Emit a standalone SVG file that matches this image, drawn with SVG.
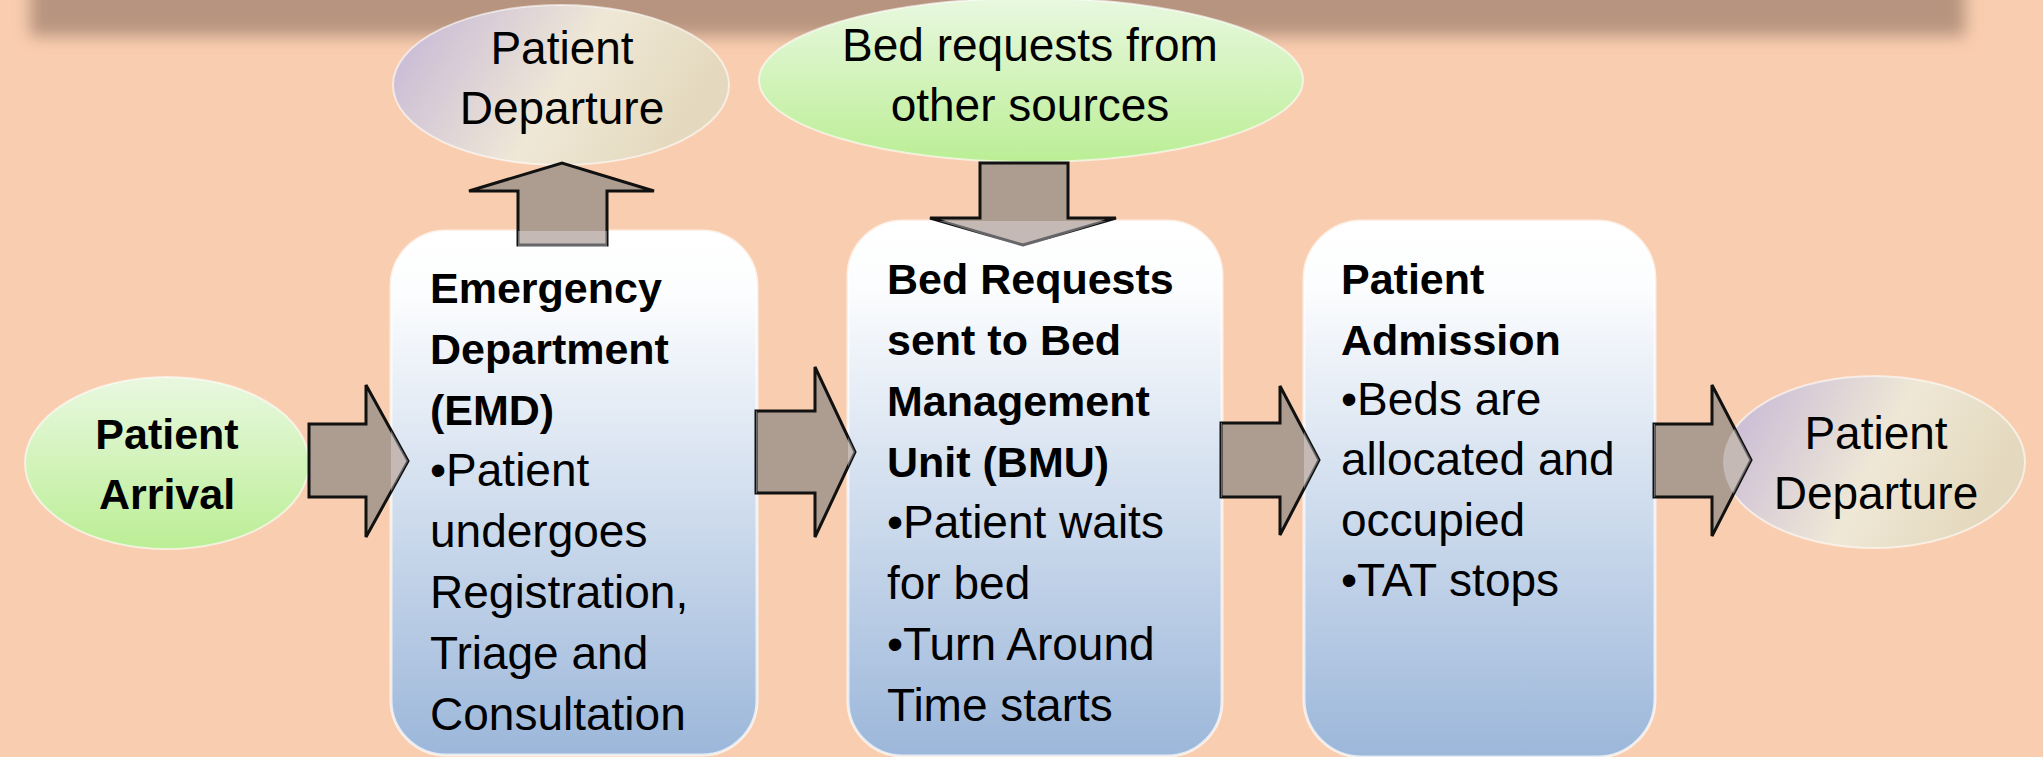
<svg xmlns="http://www.w3.org/2000/svg" width="2043" height="757" viewBox="0 0 2043 757">
<defs>
<linearGradient id="gGreen" x1="0" y1="0" x2="0" y2="1"><stop offset="0" stop-color="#E9F8E0"/><stop offset="1" stop-color="#BBEE95"/></linearGradient>
<linearGradient id="gLav" x1="0" y1="0" x2="1" y2="0.3"><stop offset="0" stop-color="#C3B4D6"/><stop offset="0.6" stop-color="#EFE8D6"/><stop offset="1" stop-color="#E4D9BE"/></linearGradient>
<linearGradient id="gBox" x1="0" y1="0" x2="0" y2="1"><stop offset="0" stop-color="#FFFFFF"/><stop offset="0.12" stop-color="#FCFDFE"/><stop offset="1" stop-color="#9CB7DA"/></linearGradient>
<filter id="blur" x="-10%" y="-100%" width="120%" height="300%"><feGaussianBlur stdDeviation="8"/></filter>
<clipPath id="arrowClip">
<path d="M309,424 H366 V385 L408,461 L366,537 V497 H309 Z"/>
<path d="M756,411 H815 V367 L855,452 L815,537 V493 H756 Z"/>
<path d="M1221,423 H1280 V386 L1319,460 L1280,535 V497 H1221 Z"/>
<path d="M1654,424 H1712 V385 L1751,460 L1712,536 V497 H1654 Z"/>
<path d="M518,247 V191 H469 L562,163 L654,191 H607 V247 Z"/>
<path d="M980,163 H1068 V218 H1116 L1023,247 L930,218 H980 Z"/>
</clipPath>
<style>
.bold{font-family:"Liberation Sans",Arial,sans-serif;font-weight:bold;font-size:43px;fill:#000}
.reg{font-family:"Liberation Sans",Arial,sans-serif;font-size:46px;fill:#000}
.ctr{text-anchor:middle}
.box{fill:url(#gBox);stroke:#FFFFFF;stroke-opacity:0.7;stroke-width:3}
.ell{stroke:#FFFFFF;stroke-opacity:0.6;stroke-width:2}
.arrow{fill:#AD9C90;stroke:#111;stroke-width:3;stroke-linejoin:miter}
.veil{fill:#E6E6EE;fill-opacity:0.4}
</style>
</defs>
<rect x="0" y="0" width="2043" height="757" fill="#F9CDAF"/>
<rect x="30" y="-60" width="1935" height="96" fill="#B7947F" filter="url(#blur)"/>

<g id="node-arrival">
<ellipse class="ell" cx="167" cy="463" rx="142" ry="86" fill="url(#gGreen)"/>
<text class="bold ctr" x="167" y="449">Patient</text>
<text class="bold ctr" x="167" y="509">Arrival</text>
</g>

<g id="node-departure-top">
<ellipse class="ell" cx="561" cy="85" rx="168" ry="80" fill="url(#gLav)"/>
<text class="reg ctr" x="562" y="64">Patient</text>
<text class="reg ctr" x="562" y="124">Departure</text>
</g>

<g id="node-bed-requests">
<ellipse class="ell" cx="1031" cy="80" rx="272" ry="82" fill="url(#gGreen)"/>
<text class="reg ctr" x="1030" y="61">Bed requests from</text>
<text class="reg ctr" x="1030" y="121">other sources</text>
</g>

<g id="node-departure-right">
<ellipse class="ell" cx="1874" cy="462" rx="151" ry="86" fill="url(#gLav)"/>
<text class="reg ctr" x="1876" y="449">Patient</text>
<text class="reg ctr" x="1876" y="509">Departure</text>
</g>

<g id="node-emd">
<rect class="box" x="391" y="231" width="366" height="524" rx="55"/>
<text class="bold" x="430" y="303">Emergency</text>
<text class="bold" x="430" y="364">Department</text>
<text class="bold" x="430" y="425">(EMD)</text>
<text class="reg" x="430" y="486">•Patient</text>
<text class="reg" x="430" y="547">undergoes</text>
<text class="reg" x="430" y="608">Registration,</text>
<text class="reg" x="430" y="669">Triage and</text>
<text class="reg" x="430" y="730">Consultation</text>
</g>

<g id="node-bmu">
<rect class="box" x="848" y="221" width="374" height="535" rx="55"/>
<text class="bold" x="887" y="294">Bed Requests</text>
<text class="bold" x="887" y="355">sent to Bed</text>
<text class="bold" x="887" y="416">Management</text>
<text class="bold" x="887" y="477">Unit (BMU)</text>
<text class="reg" x="887" y="538">•Patient waits</text>
<text class="reg" x="887" y="599">for bed</text>
<text class="reg" x="887" y="660">•Turn Around</text>
<text class="reg" x="887" y="721">Time starts</text>
</g>

<g id="node-admission">
<rect class="box" x="1304" y="221" width="351" height="536" rx="58"/>
<text class="bold" x="1341" y="294">Patient</text>
<text class="bold" x="1341" y="355">Admission</text>
<text class="reg" x="1341" y="415">•Beds are</text>
<text class="reg" x="1341" y="475">allocated and</text>
<text class="reg" x="1341" y="536">occupied</text>
<text class="reg" x="1341" y="596">•TAT stops</text>
</g>

<g id="connectors">
<path class="arrow" d="M309,424 H366 V385 L408,461 L366,537 V497 H309 Z"/>
<path class="arrow" d="M756,411 H815 V367 L855,452 L815,537 V493 H756 Z"/>
<path class="arrow" d="M1221,423 H1280 V386 L1319,460 L1280,535 V497 H1221 Z"/>
<path class="arrow" d="M1654,424 H1712 V385 L1751,460 L1712,536 V497 H1654 Z"/>
<path class="arrow" d="M518,245 V191 H469 L562,163 L654,191 H607 V245 Z"/>
<path class="arrow" d="M980,163 H1068 V218 H1116 L1023,245 L930,218 H980 Z"/>
<g clip-path="url(#arrowClip)">
<rect class="veil" x="391" y="231" width="366" height="524" rx="55"/>
<rect class="veil" x="848" y="221" width="374" height="535" rx="55"/>
<rect class="veil" x="1304" y="221" width="351" height="536" rx="58"/>
<ellipse class="veil" cx="1874" cy="462" rx="151" ry="86"/>
</g>
</g>
</svg>
